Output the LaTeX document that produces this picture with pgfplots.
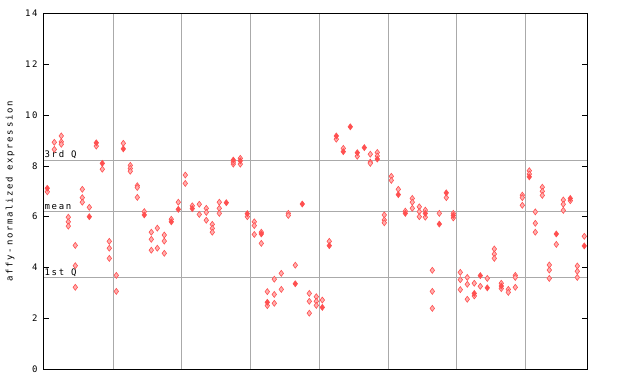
\documentclass[border=0pt]{standalone}
\usepackage{pgfplots}
\pgfplotsset{compat=1.18}
\usepackage{fontspec}
\setmonofont[LetterSpace=18]{DejaVu Sans Mono}
\definecolor{ptred}{RGB}{255,80,80}
\definecolor{ptpink}{RGB}{255,175,175}
\definecolor{gridgray}{RGB}{170,170,170}
\begin{document}
\begin{tikzpicture}[x=1pt,y=1pt]
\path[use as bounding box] (0,0) rectangle (640,384);
\begin{axis}[
  at={(44pt,14.9pt)}, anchor=south west,
  width=543pt, height=355.6pt, scale only axis,
  xmin=44, xmax=587, ymin=0, ymax=14,
  xtick=\empty,
  ytick={0,2,...,14},
  tick pos=both, tick align=inside, major tick length=5pt,
  tick style={black, line width=0.8pt},
  axis line style={black, line width=1pt},
  yticklabel style={font=\fontsize{9}{10}\ttfamily, xshift=-3pt},
  /pgf/number format/assume math mode=true,
  ylabel={affy-normalized expression},
  ylabel style={font=\fontsize{9}{10}\ttfamily, at={(axis description cs:0,0.5)}, anchor=center, yshift=34pt},
  extra x ticks={113,181,250,319,388,456,525},
  extra x tick labels={},
  extra x tick style={grid=major, major tick length=0pt, major grid style={gridgray, line width=0.9pt}},
  extra y ticks={3.61,6.22,8.22},
  extra y tick labels={},
  extra y tick style={grid=major, major tick length=0pt, major grid style={gridgray, line width=0.9pt}},
  clip=false,
]
\addplot[only marks, mark=diamond*, mark size=3pt, mark options={draw=ptred, fill=ptpink, line width=0.6pt}] coordinates {
(47.3,6.98)
(54.3,8.93) (54.3,8.65)
(61.3,9.18) (61.3,8.95) (61.3,8.85)
(68.3,5.98) (68.3,5.80) (68.3,5.63)
(75.3,4.87) (75.3,4.07) (75.3,3.22)
(82.3,7.08) (82.3,6.75) (82.3,6.57)
(89.3,6.37)
(96.3,8.78)
(102.3,7.87)
(109.3,5.03) (109.3,4.76) (109.3,4.36)
(116.3,3.69) (116.3,3.06)
(123.3,8.89)
(130.3,8.02) (130.3,7.90) (130.3,7.79)
(137.3,7.22) (137.3,7.15) (137.3,6.76)
(144.3,6.20)
(151.3,5.39) (151.3,5.11) (151.3,4.68)
(157.3,5.55) (157.3,4.76)
(164.3,5.28) (164.3,5.04) (164.3,4.56)
(171.3,5.90)
(178.3,6.57)
(185.3,7.64) (185.3,7.31)
(192.3,6.43)
(199.3,6.49) (199.3,6.09)
(206.3,6.33) (206.3,6.17) (206.3,5.86)
(212.3,5.70) (212.3,5.54) (212.3,5.39)
(219.3,6.57) (219.3,6.33) (219.3,6.13)
(233.3,8.07) (233.3,8.15)
(240.3,8.30) (240.3,8.07)
(247.3,6.00)
(254.3,5.80) (254.3,5.65) (254.3,5.30)
(261.3,5.39) (261.3,4.95)
(267.3,3.05) (267.3,2.50)
(274.3,3.54) (274.3,2.94) (274.3,2.59)
(281.3,3.77) (281.3,3.14)
(288.3,6.13) (288.3,6.05)
(295.3,4.09)
(309.3,2.98) (309.3,2.67) (309.3,2.20)
(316.3,2.85) (316.3,2.67) (316.3,2.51)
(322.3,2.72)
(329.3,5.03)
(336.3,9.05)
(343.3,8.69)
(357.3,8.38)
(370.3,8.46) (370.3,8.15) (370.3,8.10)
(377.3,8.53) (377.3,8.39)
(384.3,6.07) (384.3,5.87) (384.3,5.76)
(391.3,7.59) (391.3,7.43)
(398.3,7.08)
(405.3,6.22)
(412.3,6.72) (412.3,6.57) (412.3,6.33)
(419.3,6.39) (419.3,6.20) (419.3,6.00)
(425.3,6.26) (425.3,5.98)
(432.3,3.89) (432.3,3.06) (432.3,2.39)
(439.3,6.13)
(446.3,6.75)
(453.3,6.13) (453.3,5.95)
(460.3,3.81) (460.3,3.52) (460.3,3.13)
(467.3,3.61) (467.3,3.34) (467.3,2.75)
(474.3,3.38) (474.3,2.88)
(480.3,3.26)
(487.3,3.57)
(494.3,4.73) (494.3,4.53) (494.3,4.36)
(501.3,3.38) (501.3,3.17)
(508.3,3.14) (508.3,3.02)
(515.3,3.69) (515.3,3.61) (515.3,3.22)
(522.3,6.85) (522.3,6.75) (522.3,6.45)
(529.3,7.81) (529.3,7.68)
(535.3,6.19) (535.3,5.74) (535.3,5.39)
(542.3,7.16) (542.3,7.00) (542.3,6.84)
(549.3,4.10) (549.3,3.90) (549.3,3.57)
(556.3,4.91)
(563.3,6.66) (563.3,6.49) (563.3,6.25)
(570.3,6.63)
(577.3,4.06) (577.3,3.85) (577.3,3.61)
(584.3,5.23)
};
\addplot[only marks, mark=diamond*, mark size=3pt, mark options={draw=ptred, fill=ptred, line width=0.6pt}] coordinates {
(47.3,7.12)
(89.3,6.00)
(96.3,8.91)
(102.3,8.10)
(123.3,8.67)
(144.3,6.07)
(171.3,5.80)
(178.3,6.29)
(192.3,6.32)
(226.3,6.55)
(233.3,8.23)
(240.3,8.20)
(247.3,6.12)
(261.3,5.32)
(267.3,2.63)
(295.3,3.36)
(302.3,6.50)
(322.3,2.43)
(329.3,4.86)
(336.3,9.18)
(343.3,8.56)
(350.3,9.54)
(357.3,8.52)
(364.3,8.72)
(377.3,8.27)
(398.3,6.87)
(405.3,6.13)
(425.3,6.13)
(439.3,5.71)
(446.3,6.94)
(453.3,6.05)
(474.3,2.98)
(480.3,3.68)
(487.3,3.20)
(501.3,3.27)
(529.3,7.57)
(556.3,5.32)
(570.3,6.72)
(584.3,4.85)
};
\node[anchor=south west, inner sep=0pt, font=\fontsize{9}{10}\ttfamily] at (axis cs:44.5,8.26) {3rd Q};
\node[anchor=south west, inner sep=0pt, font=\fontsize{9}{10}\ttfamily] at (axis cs:44.5,6.26) {mean};
\node[anchor=south west, inner sep=0pt, font=\fontsize{9}{10}\ttfamily] at (axis cs:44.5,3.65) {1st Q};
\end{axis}
\end{tikzpicture}
\end{document}
